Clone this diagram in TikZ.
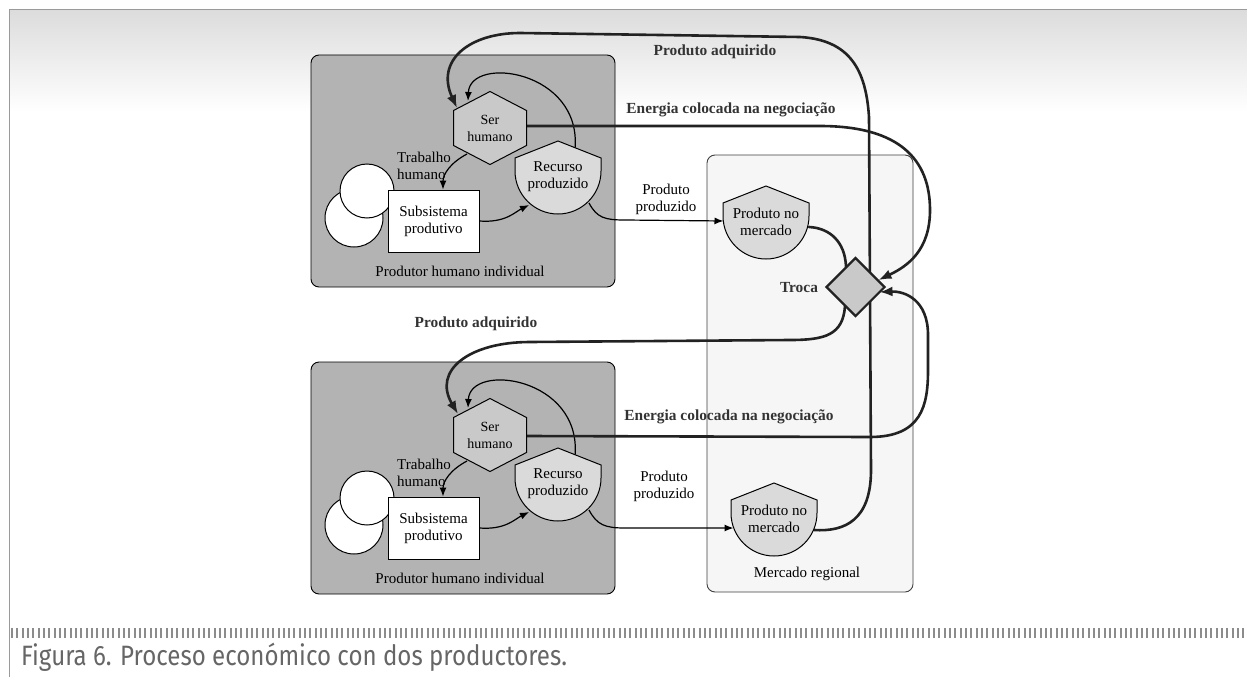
\documentclass[tikz,border=0pt]{standalone}
\usepackage{fontspec}
\setmainfont{Liberation Serif}
\newfontfamily\capfont[FakeStretch=0.86]{Fira Sans}
\usetikzlibrary{arrows.meta,calc,shapes.geometric}
\pgfdeclarelayer{bgl}
\pgfdeclarelayer{edgel}
\pgfdeclarelayer{shapel}
\pgfsetlayers{bgl,edgel,shapel,main}

\definecolor{topgray}{HTML}{DCDCDC}
\definecolor{framegray}{HTML}{9A9A9A}
\definecolor{tickgray}{HTML}{8C8C8C}
\definecolor{captgray}{HTML}{666666}
\definecolor{prodfill}{HTML}{B3B3B3}
\definecolor{hexfill}{HTML}{C9C9C9}
\definecolor{resfill}{HTML}{DADADA}
\definecolor{mktfill}{HTML}{F6F6F6}
\definecolor{linedark}{HTML}{222222}
\definecolor{lbldark}{HTML}{333333}

\begin{document}
\begin{tikzpicture}[x=1pt,y=-1pt,
  txt/.style={font=\fontsize{15}{17}\selectfont, align=center, inner sep=0pt},
  shtxt/.style={font=\fontsize{14}{17}\selectfont, align=center, inner sep=0pt},
  lbl/.style={font=\fontsize{15.4}{17}\selectfont\bfseries, text=lbldark, inner sep=0pt},
  prodbox/.style={draw=black, line width=0.9pt, fill=prodfill, rounded corners=8pt,
    minimum width=304pt, minimum height=232pt, inner sep=0pt},
  mktbox/.style={draw=black!75, line width=0.9pt, fill=mktfill, rounded corners=8pt,
    minimum width=206pt, minimum height=437pt, inner sep=0pt},
  sbox/.style={draw=black, line width=0.9pt, fill=white, minimum width=91pt,
    minimum height=62pt, inner sep=0pt, font=\fontsize{15}{17}\selectfont, align=center},
  diam/.style={diamond, draw=linedark, line width=2.2pt, fill=hexfill, minimum width=59pt,
    minimum height=59pt, inner sep=0pt},
  shapeline/.style={draw=black, line width=1pt},
  thinarrow/.style={draw=black, line width=1.2pt, -{Latex[length=9pt,width=7pt]}},
  thickarrow/.style={draw=linedark, line width=2.6pt, line cap=round,
    -{Latex[length=13pt,width=10pt]}},
  thickline/.style={draw=linedark, line width=2.6pt, line cap=round}
]
\useasboundingbox (0,0) rectangle (1247,677);

% page frame, caption rule
\begin{pgfonlayer}{bgl}
  \fill[white] (0,0) rectangle (1247,677);
  \shade[top color=topgray, bottom color=white] (10,10) rectangle (1247,112);
  \draw[framegray, line width=1.6pt] (9.5,677) -- (9.5,9.5) -- (1247,9.5);
  \draw[tickgray, line width=10pt, dash pattern=on 2pt off 3.33pt] (11,633) -- (1247,633);
  % subsystem frames
  \node[prodbox] (pb1) at (463,171) {};
  \node[prodbox] (pb2) at (463,478) {};
  \node[mktbox] (mk) at (810,373.5) {};
\end{pgfonlayer}

% text nodes
\node[shtxt] (s1) at (490,128) {Ser\\humano};
\node[shtxt] (s2) at (490,435) {Ser\\humano};
\node[txt] (r1) at (558,177) {Recurso\\produzido};
\node[txt] (r2) at (558,484) {Recurso\\produzido};
\node[sbox] (b1) at (433.5,221) {Subsistema\\produtivo};
\node[sbox] (b2) at (433.5,528) {Subsistema\\produtivo};
\node[txt] (m1) at (766,222) {Produto no\\mercado};
\node[txt] (m2) at (774,519) {Produto no\\mercado};
\node[diam] (tr) at (855.5,287) {};

\node[lbl] (pa1) at (715,52) {Produto adquirido};
\node[lbl] (pa2) at (476,324) {Produto adquirido};
\node[lbl] (en1) at (731,110) {Energia colocada na negociação};
\node[lbl] (en2) at (729,417) {Energia colocada na negociação};
\node[lbl] (trl) at (799,288) {Troca};
\node[txt] (pp1) at (666,199) {Produto\\produzido};
\node[txt] (pp2) at (664,486) {Produto\\produzido};
\node[txt, align=left, anchor=west] (th1) at (397,166) {Trabalho\\humano};
\node[txt, align=left, anchor=west] (th2) at (397,473) {Trabalho\\humano};
\node[txt] (ph1) at (460,271) {Produtor humano individual};
\node[txt] (ph2) at (460,578) {Produtor humano individual};
\node[txt] (mr) at (807,574) {Mercado regional};

\node[font=\capfont\fontsize{28}{30}\selectfont, text=captgray, anchor=base west, inner sep=0pt]
  (cap) at (21,665) {Figura 6. Proceso económico con dos productores.};

% symbol outlines
\begin{pgfonlayer}{shapel}
  \foreach \s in {s1,s2}{
    \draw[shapeline, fill=hexfill, shift={(\s.center)}]
      (0,-36.5) -- (36.5,-17.5) -- (36.5,17.5) -- (0,36.5) -- (-36.5,17.5) -- (-36.5,-17.5) -- cycle;
  }
  \foreach \s in {r1,r2,m1,m2}{
    \draw[shapeline, fill=resfill, shift={(\s.center)}]
      (-43,-19) -- (0,-36) -- (43,-19) -- (43,-6)
      .. controls (43,17.7) and (23.7,37) .. (0,37)
      .. controls (-23.7,37) and (-43,17.7) .. (-43,-6) -- cycle;
  }
  \foreach \b in {b1,b2}{
    \draw[shapeline, fill=white] ($(\b.center)+(-79.5,-3)$) circle (29pt);
    \draw[shapeline, fill=white] ($(\b.center)+(-66.5,-30)$) circle (27pt);
  }
\end{pgfonlayer}

% connectors
\begin{pgfonlayer}{edgel}
  \foreach \s/\b/\r/\dy in {s1/b1/r1/0, s2/b2/r2/307}{
    % human work into the productive subsystem
    \draw[thinarrow] ($(\s.center)+(-23,26)$) .. controls ($(\s.center)+(-40,35)$)
      and ($(\b.north)+(9.5,-15)$) .. ($(\b.north)+(9.5,0)$);
    % subsystem output to the produced resource
    \draw[thinarrow] (\b.east) .. controls ($(\b.east)+(26,2)$)
      and ($(\r.center)+(-43,35)$) .. ($(\r.center)+(-29,28)$);
    % resource returned to the human
    \draw[thinarrow] ($(\r.center)+(17,-28)$) .. controls ($(\r.center)+(24,-107)$)
      and ($(\s.center)+(-20,-73)$) .. ($(\s.center)+(-22,-27)$);
  }
  % produced goods to the market
  \draw[thinarrow] ($(r1.center)+(31,26)$) .. controls (597,218) and (605,220) .. (625,220)
    -- ($(m1.center)+(-42.5,-1)$);
  \draw[thinarrow] ($(r2.center)+(31,26)$) .. controls (597,525) and (605,528) .. (625,528)
    -- ($(m2.center)+(-40.5,9)$);
  % market product into the exchange
  \draw[thickline] ($(m1.center)+(43,5)$) .. controls (830,228) and (845,242)
    .. ($(tr.center)+(-9.5,-20.5)$);
  % acquired product back to the first producer
  \draw[thickarrow] ($(m2.center)+(40,11)$) .. controls (845,532) and (871,520) .. (871,470)
    -- (869,117) .. controls (866,70) and (850,40) .. (800,37) -- (520,33)
    .. controls (470,33) and (435,60) .. ($(s1.center)+(-33,-20)$);
  % acquired product to the second producer
  \draw[thickarrow] ($(tr.center)+(-10.5,19)$) .. controls (843,335) and (825,340) .. (790,340)
    -- (530,342) .. controls (470,342) and (432,370) .. ($(s2.center)+(-32,-21)$);
  % negotiation energy
  \draw[thickarrow] ($(s1.center)+(36.5,-2)$) -- (820,126) .. controls (900,126) and (930,160)
    .. (930,210) .. controls (930,250) and (908,266) .. ($(tr.center)+(23,-7)$);
  \draw[thickarrow] ($(s2.center)+(36.5,1)$) -- (870,437) .. controls (922,437) and (928,405)
    .. (928,370) -- (928,335) .. controls (928,300) and (905,291) .. ($(tr.center)+(24,5)$);
\end{pgfonlayer}
\end{tikzpicture}
\end{document}
